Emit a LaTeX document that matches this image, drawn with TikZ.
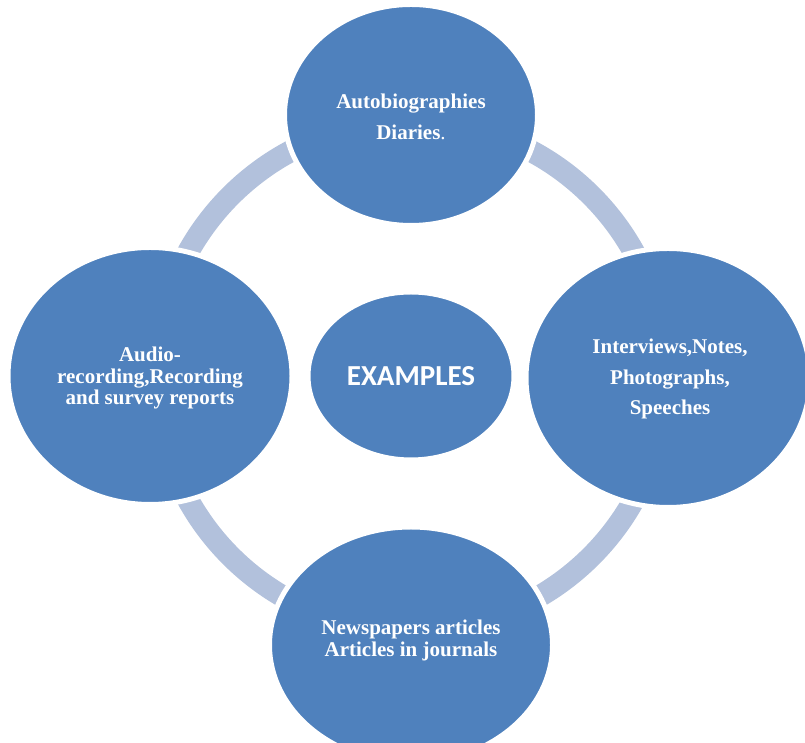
\documentclass[tikz,border=0pt]{standalone}
\usepackage{fontspec}
\setmainfont{Liberation Serif}
\newfontfamily\calib{Carlito}
\usetikzlibrary{shapes.geometric}
\definecolor{bubble}{HTML}{4F81BD}
\definecolor{ring}{HTML}{B2C1DC}
\tikzset{
  bubble/.style={ellipse, inner sep=0pt, fill=bubble, draw=white, line width=5pt,
    text=white, align=center, font=\bfseries\fontsize{21}{22}\selectfont},
  ringarc/.style={draw=ring, line width=22pt}
}
\begin{document}
\begin{tikzpicture}[x=1pt, y=1pt]
\useasboundingbox (0,0) rectangle (805,743);
% ring pieces linking the outer bubbles (drawn first, covered by the bubbles)
\coordinate (mid) at (411,367);
\draw[ringarc] (mid) ++(100:255pt) arc[start angle=100, end angle=170, radius=255pt];
\draw[ringarc] (mid) ++(10:255pt) arc[start angle=10, end angle=80, radius=255pt];
\draw[ringarc] (mid) ++(190:255pt) arc[start angle=190, end angle=260, radius=255pt];
\draw[ringarc] (mid) ++(280:255pt) arc[start angle=280, end angle=350, radius=255pt];
% outer bubbles
\node[bubble, minimum width=253pt, minimum height=221pt] (top) at (411,628) {};
\node[font=\bfseries\fontsize{21}{31}\selectfont, text=white, align=center] (toptxt) at (411,626)
  {Autobiographies\\Diaries\textmd{.}};
\node[bubble, minimum width=284pt, minimum height=257pt] (left) at (150,367) {};
\node[font=\bfseries\fontsize{21}{21.5}\selectfont, text=white, align=center] (lefttxt) at (150,365)
  {Audio-\\recording,Recording\\and survey reports};
\node[bubble, minimum width=284pt, minimum height=259pt] (right) at (668,365) {};
\node[font=\bfseries\fontsize{21}{30.5}\selectfont, text=white, align=center] (righttxt) at (670,364)
  {Interviews,Notes,\\Photographs,\\Speeches};
\node[bubble, minimum width=283pt, minimum height=236pt] (bottom) at (411,98) {};
\node[font=\bfseries\fontsize{21}{22}\selectfont, text=white, align=center] (bottomtxt) at (411,103)
  {Newspapers articles\\Articles in journals};
% central bubble
\node[bubble, minimum width=206pt, minimum height=168pt,
  font=\calib\bfseries\fontsize{29}{32}\selectfont] (ex) at (mid) {EXAMPLES};
\end{tikzpicture}
\end{document}
